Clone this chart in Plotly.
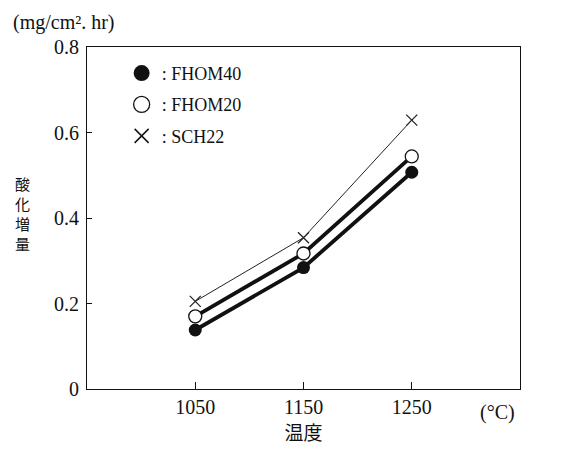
import plotly.graph_objects as go

temps = [1050, 1150, 1250]
fhom40 = [0.138, 0.284, 0.507]
fhom20 = [0.170, 0.317, 0.544]
sch22 = [0.205, 0.354, 0.629]
y_ticks = [0, 0.2, 0.4, 0.6, 0.8]
y_tick_text = ["0", "0.2", "0.4", "0.6", "0.8"]
y_title_chars = ["酸", "化", "増", "量"]

serif = "Liberation Serif, Noto Sans CJK JP"
cjk = "Noto Sans CJK JP"

fig = go.Figure()
fig.add_trace(go.Scatter(x=temps, y=sch22, mode="lines+markers", showlegend=False,
                         line=dict(color="#222", width=1),
                         marker=dict(symbol="x-thin", size=11, line=dict(color="#222", width=1.3))))
fig.add_trace(go.Scatter(x=temps, y=fhom20, mode="lines+markers", showlegend=False,
                         line=dict(color="#111", width=3.8),
                         marker=dict(symbol="circle", size=13, color="white", line=dict(color="#111", width=1.3))))
fig.add_trace(go.Scatter(x=temps, y=fhom40, mode="lines+markers", showlegend=False,
                         line=dict(color="#111", width=3.8),
                         marker=dict(symbol="circle", size=13, color="#111")))

# legend-only entries
fig.add_trace(go.Scatter(x=[None], y=[None], mode="markers", name=": FHOM40", legendgroup="a",
                         marker=dict(symbol="circle", size=16, color="#111")))
fig.add_trace(go.Scatter(x=[None], y=[None], mode="markers", name=": FHOM20", legendgroup="b",
                         marker=dict(symbol="circle", size=16, color="white", line=dict(color="#111", width=1.3))))
fig.add_trace(go.Scatter(x=[None], y=[None], mode="markers", name=": SCH22", legendgroup="c",
                         marker=dict(symbol="x-thin", size=14, line=dict(color="#111", width=1.5))))

annotations = [
    dict(text="(mg/cm². hr)", xref="paper", yref="paper", x=-0.176, y=1.0, yshift=25,
         xanchor="left", yanchor="middle", showarrow=False,
         font=dict(family=serif, size=20)),
    dict(text="(°C)", xref="x", yref="paper", x=1329, y=0, yshift=-23,
         xanchor="center", yanchor="middle", showarrow=False,
         font=dict(family=serif, size=20)),
]
for i, ch in enumerate(y_title_chars):
    annotations.append(dict(text=ch, xref="paper", yref="paper", x=-0.150, y=0.602 - i * 0.0585,
                            xanchor="center", yanchor="middle", showarrow=False,
                            font=dict(family=cjk, size=15)))

fig.update_layout(
    width=566, height=454,
    margin=dict(l=79, r=54, t=39, b=73),
    paper_bgcolor="white", plot_bgcolor="white",
    font=dict(family=serif, size=18, color="#111"),
    showlegend=True,
    legend=dict(x=0.08, y=0.977, xanchor="left", yanchor="top",
                bgcolor="rgba(0,0,0,0)", font=dict(family=serif, size=18),
                tracegroupgap=5, itemsizing="trace"),
    xaxis=dict(range=[950, 1350], tickvals=temps, ticks="inside", ticklen=7,
               tickcolor="#111", showgrid=False, zeroline=False,
               showline=True, linecolor="#111", linewidth=1, mirror=True,
               tickfont=dict(family=serif, size=20),
               title=dict(text="温度", font=dict(family=cjk, size=19), standoff=2)),
    yaxis=dict(range=[0, 0.8], tickvals=y_ticks, ticktext=y_tick_text, ticks="inside", ticklen=5,
               tickcolor="#111", showgrid=False, zeroline=False,
               showline=True, linecolor="#111", linewidth=1, mirror=True,
               tickfont=dict(family=serif, size=20), ticklabelstandoff=3),
    annotations=annotations,
)

fig.write_html("out.html")
